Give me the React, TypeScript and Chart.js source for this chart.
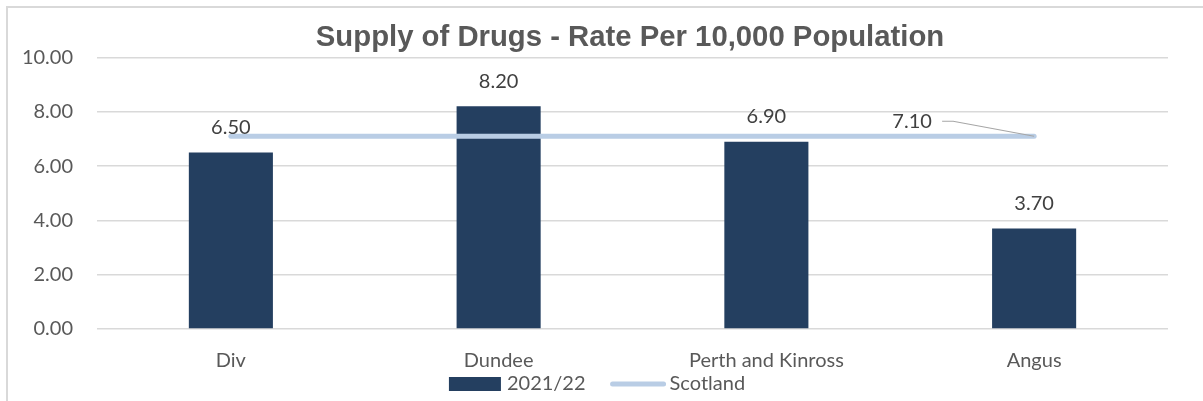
import React, { useEffect, useRef } from "react";
import { Chart, registerables } from "chart.js";

Chart.register(...registerables);

const categories = ["Div", "Dundee", "Perth and Kinross", "Angus"];
const rate2021 = [6.5, 8.2, 6.9, 3.7];
const scotland = [7.1, 7.1, 7.1, 7.1];
const yTicks = [0, 2, 4, 6, 8, 10];
const titleText = "Supply of Drugs - Rate Per 10,000 Population";
const barLabel = "2021/22";
const lineLabel = "Scotland";

const NAVY = "#243f60";
const LIGHT = "#b9cde5";
const GREY_TEXT = "#595959";
const LABEL_TEXT = "#404040";
const FONT = "Lato, 'Open Sans', sans-serif";

const decorPlugin = {
  id: "decor",
  beforeDraw(chart: any) {
    const ctx = chart.ctx;
    ctx.save();
    ctx.strokeStyle = "#d9d9d9";
    ctx.lineWidth = 2;
    ctx.beginPath();
    ctx.moveTo(7, 6);
    ctx.lineTo(7, chart.height);
    ctx.moveTo(6, 7);
    ctx.lineTo(chart.width, 7);
    ctx.stroke();
    ctx.restore();
  },
  afterDraw(chart: any) {
    const ctx = chart.ctx;
    ctx.save();
    // title
    ctx.fillStyle = GREY_TEXT;
    ctx.font = "bold 29.3px 'Liberation Sans', Arial, sans-serif";
    ctx.textAlign = "center";
    ctx.textBaseline = "middle";
    ctx.fillText(titleText, 630, 38);

    // bar data labels
    ctx.font = `20px ${FONT}`;
    ctx.fillStyle = LABEL_TEXT;
    const barMeta = chart.getDatasetMeta(0);
    barMeta.data.forEach((el: any, i: number) => {
      ctx.fillText(rate2021[i].toFixed(2), el.x, el.y - 25);
    });

    // scotland label on last point with leader line
    const lineMeta = chart.getDatasetMeta(1);
    const last = lineMeta.data[lineMeta.data.length - 1];
    const px = last.x, py = last.y;
    ctx.fillText(scotland[scotland.length - 1].toFixed(2), px - 122, py - 15);
    ctx.strokeStyle = "#a6a6a6";
    ctx.lineWidth = 1.2;
    ctx.beginPath();
    ctx.moveTo(px - 92, py - 15);
    ctx.lineTo(px - 81, py - 15);
    ctx.lineTo(px, py);
    ctx.stroke();

    // legend
    ctx.font = `20px ${FONT}`;
    const tw1 = ctx.measureText(barLabel).width;
    const tw2 = ctx.measureText(lineLabel).width;
    const total = 52 + 6 + tw1 + 25 + 55 + 4 + tw2;
    let x = 597 - total / 2;
    const ly = 384;
    ctx.fillStyle = NAVY;
    ctx.fillRect(x, ly - 7, 52, 14);
    x += 58;
    ctx.fillStyle = GREY_TEXT;
    ctx.textAlign = "left";
    ctx.fillText(barLabel, x, ly);
    x += tw1 + 25;
    ctx.strokeStyle = LIGHT;
    ctx.lineWidth = 5;
    ctx.lineCap = "round";
    ctx.beginPath();
    ctx.moveTo(x + 2, ly);
    ctx.lineTo(x + 53, ly);
    ctx.stroke();
    x += 59;
    ctx.fillText(lineLabel, x, ly);
    ctx.restore();
  },
};

export default function App() {
  const ref = useRef<HTMLCanvasElement | null>(null);
  useEffect(() => {
    if (!ref.current) return;
    const chart = new Chart(ref.current, {
      type: "bar",
      data: {
        labels: categories,
        datasets: [
          {
            type: "bar",
            label: barLabel,
            data: rate2021,
            backgroundColor: NAVY,
            barPercentage: 0.314,
            categoryPercentage: 1,
            order: 1,
          },
          {
            type: "line",
            label: lineLabel,
            data: scotland,
            borderColor: LIGHT,
            backgroundColor: LIGHT,
            borderWidth: 5,
            borderCapStyle: "round",
            pointRadius: 0,
            fill: false,
            order: 0,
          } as any,
        ],
      },
      options: {
        responsive: false,
        maintainAspectRatio: false,
        animation: false,
        layout: { padding: { top: 57.5, right: 35, bottom: 28, left: 0 } },
        plugins: {
          legend: { display: false },
          title: { display: false },
          tooltip: { enabled: false },
        },
        scales: {
          x: {
            afterFit: (s: any) => { s.height = 44; },
            grid: { display: false, drawTicks: false },
            border: { display: false },
            ticks: { color: GREY_TEXT, font: { family: FONT, size: 20 }, padding: 20 },
          },
          y: {
            min: 0,
            max: 10,
            afterFit: (s: any) => { s.width = 97; },
            afterBuildTicks: (s: any) => { s.ticks = yTicks.map((v) => ({ value: v })); },
            grid: { color: "#d9d9d9", lineWidth: 1.5, drawTicks: false },
            border: { display: false },
            ticks: {
              color: GREY_TEXT,
              font: { family: FONT, size: 20 },
              padding: 24,
              callback: (v: any) => Number(v).toFixed(2),
            },
          },
        },
      },
      plugins: [decorPlugin],
    });
    return () => chart.destroy();
  }, []);
  return (
    <div style={{ position: "absolute", left: 0, top: 0, width: 1203, height: 401, background: "#fff" }}>
      <canvas ref={ref} width={1203} height={401} />
    </div>
  );
}
